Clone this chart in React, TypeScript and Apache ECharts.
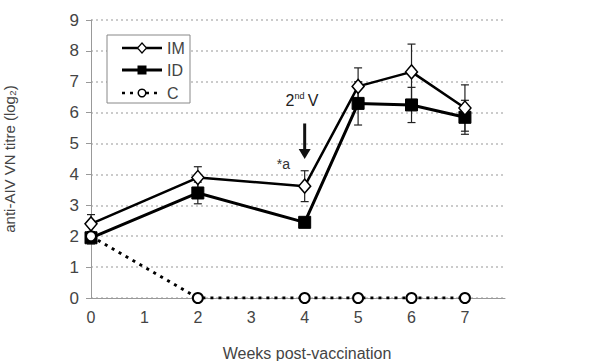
import React, { useEffect, useRef } from "react";
import * as echarts from "echarts";

const weeks = [0, 2, 4, 5, 6, 7];
const imMean = [2.4, 3.9, 3.62, 6.85, 7.32, 6.15];
const imErr = [0.3, 0.35, 0.5, 0.6, 0.9, 0.75];
const idMean = [1.95, 3.4, 2.45, 6.3, 6.25, 5.85];
const idErr = [0.2, 0.35, 0.1, 0.7, 0.57, 0.55];
const cMean = [2.0, 0, 0, 0, 0, 0];
const xTicks = [0, 1, 2, 3, 4, 5, 6, 7];
const yTicks = [0, 1, 2, 3, 4, 5, 6, 7, 8, 9];

const FONT = "Liberation Sans, Arial, sans-serif";

function errData(mean: number[], err: number[]) {
  return weeks.map((w, i) => [w, mean[i] - err[i], mean[i] + err[i]]);
}

function errSeries(name: string, mean: number[], err: number[]) {
  return {
    name,
    type: "custom",
    z: 1,
    data: errData(mean, err),
    renderItem: (params: any, api: any) => {
      const x = api.value(0);
      const lo = api.coord([x, api.value(1)]);
      const hi = api.coord([x, api.value(2)]);
      const cap = 4;
      const style = { stroke: "#222", lineWidth: 1.2 };
      return {
        type: "group",
        children: [
          { type: "line", shape: { x1: lo[0], y1: lo[1], x2: hi[0], y2: hi[1] }, style },
          { type: "line", shape: { x1: lo[0] - cap, y1: lo[1], x2: lo[0] + cap, y2: lo[1] }, style },
          { type: "line", shape: { x1: hi[0] - cap, y1: hi[1], x2: hi[0] + cap, y2: hi[1] }, style },
        ],
      };
    },
  };
}

export default function App() {
  const ref = useRef<HTMLDivElement>(null);
  useEffect(() => {
    if (!ref.current) return;
    const chart = echarts.init(ref.current, null, { renderer: "svg" });
    const option: any = {
      animation: false,
      backgroundColor: "#fff",
      grid: { left: 91, right: 95, top: 20, bottom: 63 },
      xAxis: {
        type: "value",
        min: 0,
        max: 7.75,
        interval: 1,
        axisLine: { lineStyle: { color: "#999", width: 1 } },
        axisTick: { show: false },
        splitLine: { show: false },
        axisLabel: {
          color: "#444",
          fontSize: 16,
          fontFamily: FONT,
          margin: 11,
          showMaxLabel: false,
          formatter: (v: number) => (xTicks.includes(v) ? String(v) : ""),
        },
      },
      yAxis: {
        type: "value",
        min: 0,
        max: 9,
        interval: 1,
        axisLine: { show: true, lineStyle: { color: "#999", width: 1 } },
        axisTick: { show: true, length: 5, lineStyle: { color: "#999" } },
        splitLine: { show: true, lineStyle: { color: "#bbb", type: [2, 3], width: 1.5 } },
        axisLabel: {
          color: "#444",
          fontSize: 17,
          fontFamily: FONT,
          margin: 12,
          formatter: (v: number) => (yTicks.includes(v) ? String(v) : ""),
        },
      },
      series: [
        errSeries("IMerr", imMean, imErr),
        errSeries("IDerr", idMean, idErr),
        {
          name: "ID",
          type: "line",
          z: 3,
          data: weeks.map((w, i) => [w, idMean[i]]),
          symbol: "rect",
          symbolSize: 12,
          showAllSymbol: true,
          lineStyle: { color: "#000", width: 3 },
          itemStyle: { color: "#000", borderColor: "#000", borderWidth: 1 },
        },
        {
          name: "IM",
          type: "line",
          z: 4,
          data: weeks.map((w, i) => [w, imMean[i]]),
          symbol: "diamond",
          symbolSize: [12, 14],
          lineStyle: { color: "#000", width: 2.5 },
          itemStyle: { color: "#fff", borderColor: "#000", borderWidth: 1.5 },
        },
        {
          name: "C",
          type: "line",
          z: 5,
          data: weeks.map((w, i) => [w, cMean[i]]),
          symbol: "circle",
          symbolSize: 10,
          lineStyle: { color: "#000", width: 3, type: [3, 5] },
          itemStyle: { color: "#fff", borderColor: "#000", borderWidth: 2 },
        },
      ],
    };
    chart.setOption(option);

    const arrowTop = chart.convertToPixel({ gridIndex: 0 }, [4, 5.65]);
    const arrowBot = chart.convertToPixel({ gridIndex: 0 }, [4, 4.5]);
    const labelPos = chart.convertToPixel({ gridIndex: 0 }, [3.95, 6.4]);
    const aPos = chart.convertToPixel({ gridIndex: 0 }, [3.6, 4.35]);

    const legendX = 107;
    const legendY = 35;
    const rows = [48, 70, 93];
    const lx1 = 122;
    const lx2 = 162;
    const mx = 142;

    chart.setOption({
      graphic: [
        {
          type: "rect",
          shape: { x: legendX, y: legendY, width: 83, height: 68 },
          style: { fill: "#fff", stroke: "#888", lineWidth: 1 },
          z: 10,
        },
        { type: "line", z: 11, shape: { x1: lx1, y1: rows[0], x2: lx2, y2: rows[0] }, style: { stroke: "#000", lineWidth: 2.5 } },
        {
          type: "polygon",
          z: 12,
          shape: { points: [[mx, rows[0] - 5], [mx + 4.5, rows[0]], [mx, rows[0] + 5], [mx - 4.5, rows[0]]] },
          style: { fill: "#fff", stroke: "#000", lineWidth: 1.2 },
        },
        { type: "text", z: 12, x: 167, y: rows[0], style: { text: "IM", fontSize: 16, fontFamily: FONT, fill: "#444", verticalAlign: "middle" } },
        { type: "line", z: 11, shape: { x1: lx1, y1: rows[1], x2: lx2, y2: rows[1] }, style: { stroke: "#000", lineWidth: 3 } },
        { type: "rect", z: 12, shape: { x: mx - 4.5, y: rows[1] - 4.5, width: 9, height: 9 }, style: { fill: "#000" } },
        { type: "text", z: 12, x: 167, y: rows[1], style: { text: "ID", fontSize: 16, fontFamily: FONT, fill: "#444", verticalAlign: "middle" } },
        { type: "line", z: 11, shape: { x1: lx1, y1: rows[2], x2: lx2, y2: rows[2] }, style: { stroke: "#000", lineWidth: 2.5, lineDash: [3, 5] } },
        { type: "circle", z: 12, shape: { cx: mx, cy: rows[2], r: 3.8 }, style: { fill: "#fff", stroke: "#000", lineWidth: 1.5 } },
        { type: "text", z: 12, x: 167, y: rows[2], style: { text: "C", fontSize: 16, fontFamily: FONT, fill: "#444", verticalAlign: "middle" } },
        {
          type: "text",
          z: 12,
          x: labelPos[0],
          y: labelPos[1],
          style: {
            text: "{n|2}{s|nd} {n|V}",
            align: "center",
            verticalAlign: "middle",
            rich: {
              n: { fontSize: 16, fontFamily: FONT, fill: "#222", verticalAlign: "bottom" },
              s: { fontSize: 9, fontFamily: FONT, fill: "#222", verticalAlign: "top", padding: [0, 0, 8, 0] },
            },
          },
        },
        {
          type: "line",
          z: 12,
          shape: { x1: arrowTop[0], y1: arrowTop[1], x2: arrowBot[0], y2: arrowBot[1] - 8 },
          style: { stroke: "#111", lineWidth: 3 },
        },
        {
          type: "polygon",
          z: 12,
          shape: {
            points: [
              [arrowBot[0] - 6, arrowBot[1] - 10],
              [arrowBot[0] + 6, arrowBot[1] - 10],
              [arrowBot[0], arrowBot[1]],
            ],
          },
          style: { fill: "#111" },
        },
        {
          type: "text",
          z: 12,
          x: aPos[0],
          y: aPos[1],
          style: { text: "*a", fontSize: 14, fontFamily: FONT, fill: "#333", align: "center", verticalAlign: "middle" },
        },
        {
          type: "text",
          z: 12,
          x: 307,
          y: 353,
          style: { text: "Weeks post-vaccination", fontSize: 16, fontFamily: FONT, fill: "#444", align: "center", verticalAlign: "middle" },
        },
        {
          type: "text",
          z: 12,
          x: 9,
          y: 159,
          rotation: Math.PI / 2,
          style: { text: "anti-AIV VN titre (log\u2082)", fontSize: 15, fontFamily: FONT, fill: "#444", align: "center", verticalAlign: "middle" },
        },
      ],
    });

    return () => chart.dispose();
  }, []);

  return <div ref={ref} style={{ width: 600, height: 361, position: "absolute", left: 0, top: 0 }} />;
}
